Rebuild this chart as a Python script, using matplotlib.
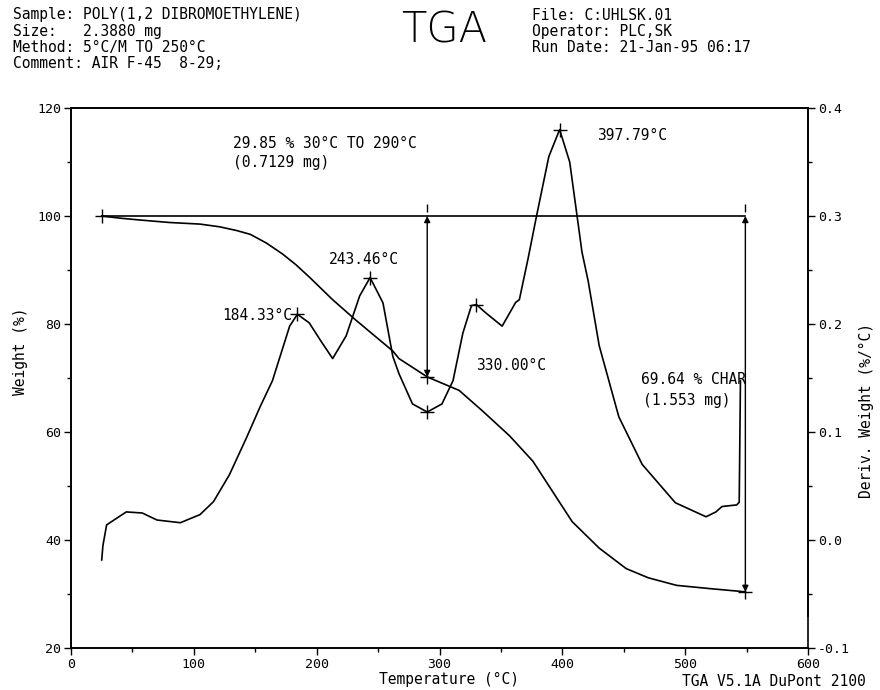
import matplotlib
matplotlib.use("Agg")
import matplotlib.pyplot as plt
from matplotlib.ticker import MultipleLocator

# weight curve (deg C, %)
temp_w = [25, 40, 54, 80, 105, 121, 135, 146, 159, 172, 183, 194, 213, 232, 262,
          267, 290, 316, 335, 357, 376, 392, 408, 430, 452, 470, 493, 520, 549]
weight = [100, 99.6, 99.3, 98.8, 98.5, 98.0, 97.3, 96.6, 95.0, 93.0, 91.0, 88.7,
          84.5, 80.7, 75.0, 73.6, 70.2, 67.7, 63.9, 59.3, 54.6, 49.0, 43.4, 38.5,
          34.7, 33.0, 31.6, 31.0, 30.4]

# derivative weight curve (deg C, %/deg C)
temp_d = [25, 26, 29, 45, 58, 70, 89, 105, 116, 129, 143, 154, 164, 178, 184.3,
          194, 203, 213, 224, 235, 243.5, 254, 262, 267, 278, 290, 302, 311, 319,
          326, 330, 338, 351, 362, 365, 372, 379, 389, 397.8, 406, 412, 416, 421,
          430, 446, 465, 492, 517, 525, 530, 542, 544, 545]
deriv = [-0.0185, -0.005, 0.014, 0.026, 0.025, 0.0185, 0.016, 0.0235, 0.0355,
         0.0605, 0.095, 0.1235, 0.1475, 0.198, 0.209, 0.201, 0.185, 0.168, 0.189,
         0.226, 0.243, 0.2195, 0.17, 0.154, 0.126, 0.1185, 0.126, 0.1475, 0.1915,
         0.217, 0.218, 0.21, 0.198, 0.22, 0.2225, 0.26, 0.30, 0.355, 0.38, 0.35,
         0.30, 0.2665, 0.24, 0.18, 0.114, 0.07, 0.0345, 0.0215, 0.026, 0.031,
         0.0325, 0.035, 0.1475]

# marked peaks on the derivative curve
peak_t = [184.33, 243.46, 290.0, 330.00, 397.79]
peak_d = [0.209, 0.243, 0.1185, 0.218, 0.38]

mono = "DejaVu Sans Mono"
fs = 10.5
W, H = 880, 690
fig = plt.figure(figsize=(8.8, 6.9), dpi=100)
ax = fig.add_axes([71 / W, 1 - 648 / H, (808 - 71) / W, (648 - 108) / H])
ax2 = ax.twinx()

ax.plot(temp_w, weight, color="black", lw=1.2)
ax2.plot(temp_d, deriv, color="black", lw=1.2)

# baseline at 100 % and step arrows
ax.plot([25, 549], [100, 100], color="black", lw=1.2)
ax.plot([25, 549, 290], [100, 30.4, 70.2], "k+", ms=10, mew=1)
ax.plot([290, 549], [101.5, 101.5], "k|", ms=6)
for x0, y1 in [(290, 70.2), (549, 30.4)]:
    ax.annotate("", xy=(x0, y1), xytext=(x0, 100),
                arrowprops=dict(arrowstyle="<|-|>", color="black", lw=1,
                                mutation_scale=9, shrinkA=0, shrinkB=0))
ax2.plot(peak_t, peak_d, "k+", ms=10, mew=1)

ax.set_xlim(0, 600)
ax.set_ylim(20, 120)
ax2.set_ylim(-0.1, 0.4)
ax.xaxis.set_major_locator(MultipleLocator(100))
ax.xaxis.set_minor_locator(MultipleLocator(50))
ax.yaxis.set_major_locator(MultipleLocator(20))
ax.yaxis.set_minor_locator(MultipleLocator(10))
ax2.yaxis.set_major_locator(MultipleLocator(0.1))
ax2.yaxis.set_minor_locator(MultipleLocator(0.05))
ax2.set_yticklabels([f"{v:.1f}" for v in ax2.get_yticks()])
for a in (ax, ax2):
    a.tick_params(which="major", direction="out", length=5, width=1,
                  labelsize=9.5, pad=2)
    a.tick_params(which="minor", direction="out", length=3, width=1)
    for lab in a.get_xticklabels() + a.get_yticklabels():
        lab.set_family(mono)
    for s in a.spines.values():
        s.set_linewidth(1.2)
ax2.spines["right"].set_bounds(-0.07, 0.4)

ax.set_xlabel("Temperature (°C)", family=mono, fontsize=fs, va="center")
ax.xaxis.set_label_coords(0.513, -0.058)
ax.set_ylabel("Weight (%)", family=mono, fontsize=fs, ha="center", va="center")
ax.yaxis.set_label_coords(-0.069, 0.55)
ax2.set_ylabel("Deriv. Weight (%/°C)", family=mono, fontsize=fs,
               ha="center", va="center")
ax2.yaxis.set_label_coords(1.0787, 0.44)

# annotations inside the plot
txt = dict(family=mono, fontsize=fs, va="center")
ax.text(132, 113.5, "29.85 % 30°C TO 290°C", **txt)
ax.text(132, 110, "(0.7129 mg)", **txt)
ax.text(210, 92, "243.46°C", **txt)
ax.text(180, 81.5, "184.33°C", ha="right", **txt)
ax.text(330, 72.3, "330.00°C", **txt)
ax.text(428, 115, "397.79°C", **txt)
ax.text(464, 69.7, "69.64 % CHAR", **txt)
ax.text(466, 65.8, "(1.553 mg)", **txt)

# header block
left_rows = ["Sample: POLY(1,2 DIBROMOETHYLENE)", "Size:   2.3880 mg",
             "Method: 5°C/M TO 250°C", "Comment: AIR F-45  8-29;"]
right_rows = ["File: C:UHLSK.01", "Operator: PLC,SK", "Run Date: 21-Jan-95 06:17"]
for i, s in enumerate(left_rows):
    fig.text(13 / W, 1 - (15 + 16.3 * i) / H, s, **txt)
for i, s in enumerate(right_rows):
    fig.text(532 / W, 1 - (15 + 16.3 * i) / H, s, **txt)
fig.text(444 / W, 1 - 30 / H, "TGA", family="DejaVu Sans", fontsize=30,
         fontweight="light", ha="center", va="center")
fig.text(682 / W, 1 - 681 / H, "TGA V5.1A DuPont 2100", **txt)

fig.savefig("out.png", dpi=100)
